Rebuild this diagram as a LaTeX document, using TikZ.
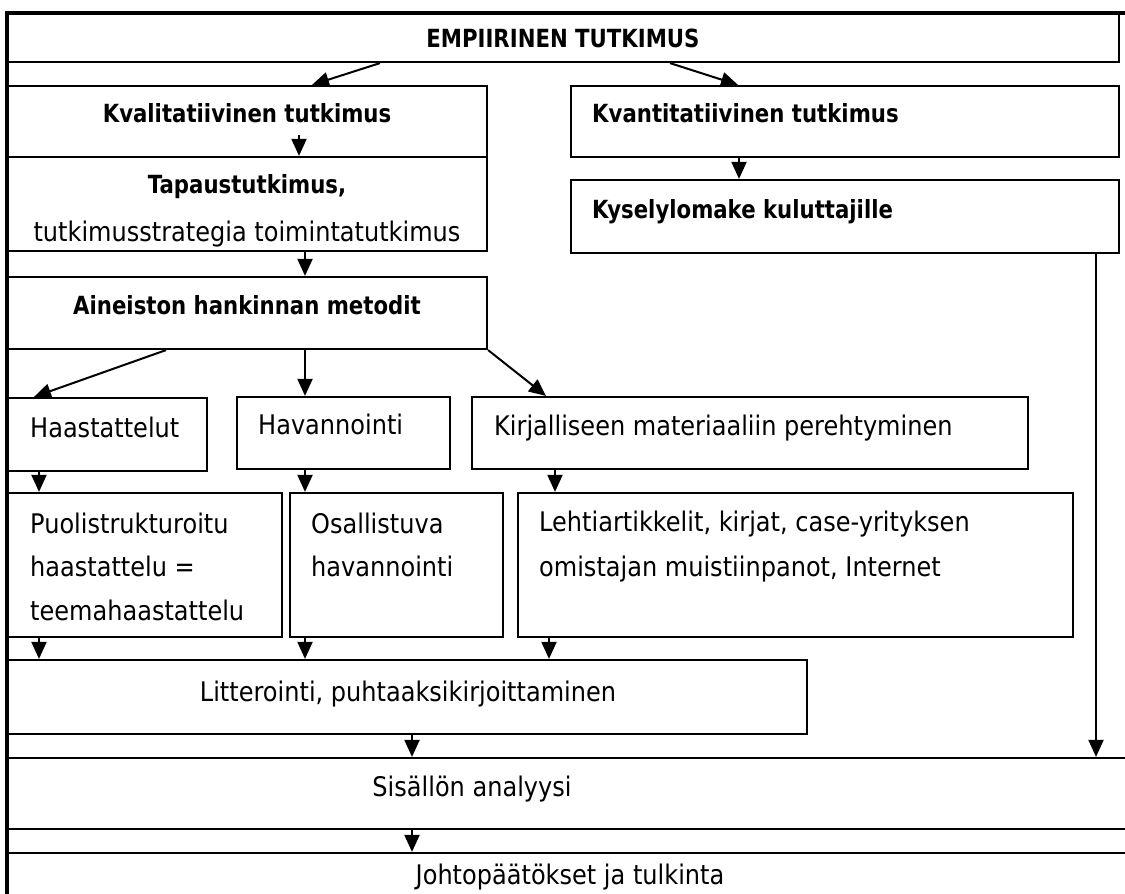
\documentclass[tikz,border=0pt]{standalone}
\usepackage{fontspec}
\setmainfont{DejaVu Sans}[FakeStretch=0.89, BoldFeatures={FakeStretch=0.85}]
\usetikzlibrary{arrows.meta,fit}
\begin{document}
\begin{tikzpicture}[x=1pt,y=-1pt,
  box/.style={draw=black, line width=2.2pt, inner sep=0pt},
  frame/.style={line width=3.2pt},
  arr/.style={line width=2pt, -{Triangle[length=17pt,width=15pt]}},
  bt/.style={font=\fontsize{25}{30}\selectfont\bfseries, inner sep=0pt},
  rt/.style={font=\fontsize{27}{32}\selectfont, inner sep=0pt, yshift=-4pt},
  lt/.style={font=\fontsize{27}{32}\selectfont, inner sep=0pt, anchor=mid west, yshift=-8pt},
  lbt/.style={bt, anchor=mid west, yshift=-7pt}]
\useasboundingbox (0,0) rectangle (1125,894);
\clip (0,0) rectangle (1125,894);
\fill[white] (0,0) rectangle (1125,894);

% boxes
\node[box, fit={(7,13) (1119,62)}] (empi) {};
\node[box, fit={(7,86) (487,157)}] (kval) {};
\node[box, fit={(571,86) (1119,157)}] (kvan) {};
\node[box, fit={(7,157) (487,251)}] (tapa) {};
\node[box, fit={(571,180) (1119,253)}] (kysel) {};
\node[box, fit={(7,277) (487,349)}] (aine) {};
\node[box, fit={(7,398) (207,471)}] (haas) {};
\node[box, fit={(237,397) (450,469)}] (hava) {};
\node[box, fit={(472,397) (1028,469)}] (kirj) {};
\node[box, fit={(7,493) (282,637)}] (puol) {};
\node[box, fit={(290,493) (503,637)}] (osal) {};
\node[box, fit={(518,493) (1073,637)}] (leht) {};
\node[box, fit={(7,660) (807,734)}] (litt) {};
\node[box, fit={(7,758) (1140,829)}] (sisa) {};
\node[box, fit={(7,853) (1140,910)}] (joht) {};

% outer frame
\draw[frame] (7,894) -- (7,13) -- (1125,13);

% texts
\node[bt] (tempi) at (563,38) {EMPIIRINEN TUTKIMUS};
\node[bt] (tkval) at (247,113) {Kvalitatiivinen tutkimus};
\node[lbt] (tkvan) at (592,113) {Kvantitatiivinen tutkimus};
\node[bt] (ttapa1) at (247,187) {Tapaustutkimus,};
\node[rt] (ttapa2) at (247,230) {tutkimusstrategia toimintatutkimus};
\node[lbt] (tkysel) at (592,209) {Kyselylomake kuluttajille};
\node[bt] (taine) at (247,305) {Aineiston hankinnan metodit};
\node[lt] (thaas) at (30,427) {Haastattelut};
\node[lt] (thava) at (258,424) {Havannointi};
\node[lt] (tkirj) at (494,425) {Kirjalliseen materiaaliin perehtyminen};
\node[lt] (tpuol1) at (30,523) {Puolistrukturoitu};
\node[lt] (tpuol2) at (30,566) {haastattelu =};
\node[lt] (tpuol3) at (30,610) {teemahaastattelu};
\node[lt] (tosal1) at (311,523) {Osallistuva};
\node[lt] (tosal2) at (311,566) {havannointi};
\node[lt] (tleht1) at (539,521) {Lehtiartikkelit, kirjat, case-yrityksen};
\node[lt] (tleht2) at (539,566) {omistajan muistiinpanot, Internet};
\node[rt] (tlitt) at (408,690) {Litterointi, puhtaaksikirjoittaminen};
\node[rt] (tsisa) at (472,785) {Sisällön analyysi};
\node[rt] (tjoht) at (570,873) {Johtopäätökset ja tulkinta};

% connectors
\draw[arr] (380,0 |- empi.south) -- (312,0 |- kval.north);
\draw[arr] (670,0 |- empi.south) -- (738,0 |- kvan.north);
\draw[arr] (299,135) -- (299,0 |- tapa.north);
\draw[arr] (739,0 |- kvan.south) -- (739,0 |- kysel.north);
\draw[arr] (305,0 |- tapa.south) -- (305,0 |- aine.north);
\draw[arr] (166,0 |- aine.south) -- (34,0 |- haas.north);
\draw[arr] (305,0 |- aine.south) -- (305,0 |- hava.north);
\draw[arr] (aine.south east) -- (546,0 |- kirj.north);
\draw[arr] (39,0 |- haas.south) -- (39,0 |- puol.north);
\draw[arr] (305,0 |- hava.south) -- (305,0 |- osal.north);
\draw[arr] (555,0 |- kirj.south) -- (555,0 |- leht.north);
\draw[arr] (39,0 |- puol.south) -- (39,0 |- litt.north);
\draw[arr] (305,0 |- osal.south) -- (305,0 |- litt.north);
\draw[arr] (549,0 |- leht.south) -- (549,0 |- litt.north);
\draw[arr] (412,0 |- litt.south) -- (412,0 |- sisa.north);
\draw[arr] (1096,0 |- kysel.south) -- (1096,0 |- sisa.north);
\draw[arr] (412,0 |- sisa.south) -- (412,0 |- joht.north);
\end{tikzpicture}
\end{document}
